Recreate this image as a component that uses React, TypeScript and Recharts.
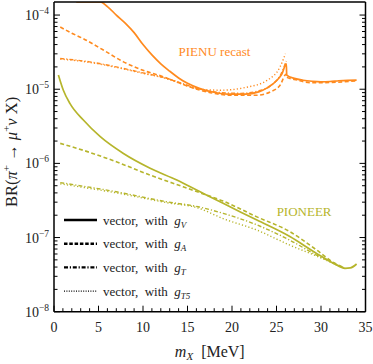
import React from 'react';
import { LineChart, Line, XAxis, YAxis, Legend, ReferenceDot } from 'recharts';

// [m_X (MeV), BR]
const pienuVector: number[][] = [
  [2.5, 1.5e-4], [5.2, 1.5e-4], [6.0, 1.3e-4], [7.0, 1.0e-4], [8.0, 7.8e-5], [9.0, 5.8e-5],
  [10.0, 4.0e-5], [11.0, 2.9e-5], [12.0, 2.2e-5], [13.0, 1.75e-5], [14.0, 1.42e-5], [15.0, 1.2e-5],
  [16.4, 1.02e-5], [18.0, 9.1e-6], [19.5, 8.6e-6], [21.5, 8.6e-6], [23.0, 9.2e-6], [24.0, 1.05e-5],
  [25.0, 1.3e-5], [25.6, 1.6e-5], [26.1, 2.2e-5], [26.15, 1.55e-5], [27.0, 1.4e-5], [28.0, 1.32e-5],
  [29.0, 1.28e-5], [30.0, 1.26e-5], [31.0, 1.27e-5], [32.0, 1.3e-5], [33.0, 1.32e-5], [34.0, 1.33e-5],
];
const pienuAxial: number[][] = [
  [0.7, 6.9e-5], [2.0, 5.7e-5], [3.3, 4.8e-5], [5.5, 3.4e-5], [7.8, 2.34e-5], [10.0, 1.8e-5],
  [12.3, 1.47e-5], [14.2, 1.2e-5], [16.4, 9.7e-6], [18.0, 8.8e-6], [19.8, 8.3e-6], [22.8, 8.3e-6],
  [24.3, 9.2e-6], [25.4, 1.13e-5], [26.1, 1.6e-5], [26.15, 1.45e-5], [27.3, 1.33e-5], [29.0, 1.22e-5],
  [31.0, 1.23e-5], [34.0, 1.3e-5],
];
const pienuTensor: number[][] = [
  [0.7, 2.6e-5], [4.0, 2.34e-5], [7.0, 2.0e-5], [10.0, 1.66e-5], [12.7, 1.4e-5], [14.2, 1.22e-5],
  [16.4, 1.0e-5], [18.7, 9.0e-6], [21.0, 8.8e-6], [23.0, 9.5e-6], [24.5, 1.15e-5], [25.5, 1.6e-5],
  [26.1, 2.4e-5],
];
const pienuTensor5: number[][] = [
  [0.7, 2.55e-5], [4.0, 2.3e-5], [7.0, 1.97e-5], [10.0, 1.64e-5], [12.7, 1.38e-5], [14.2, 1.2e-5],
  [16.4, 1.0e-5], [18.7, 9.7e-6], [21.6, 1.06e-5], [24.0, 1.33e-5], [25.4, 2.0e-5], [26.0, 3.0e-5],
];
const pioneerVector: number[][] = [
  [0.5, 1.55e-5], [1.05, 9.7e-6], [1.8, 6.4e-6], [3.3, 3.84e-6], [5.2, 2.29e-6], [7.8, 1.36e-6],
  [10.8, 8.6e-7], [13.8, 5.96e-7], [16.2, 4.27e-7], [19.0, 2.89e-7], [22.8, 1.72e-7], [26.5, 1.03e-7],
  [29.5, 6.1e-8], [31.4, 4.5e-8], [32.7, 3.85e-8], [33.3, 3.9e-8], [34.0, 4.4e-8],
];
const pioneerAxial: number[][] = [
  [0.7, 1.86e-6], [3.3, 1.5e-6], [7.0, 1.05e-6], [10.8, 6.95e-7], [14.5, 4.84e-7], [16.2, 4.1e-7],
  [19.0, 3.1e-7], [22.8, 1.9e-7], [26.5, 1.2e-7], [29.5, 6.8e-8], [31.4, 4.6e-8], [32.7, 3.85e-8],
];
const pioneerTensor: number[][] = [
  [0.7, 5.5e-7], [7.0, 4.14e-7], [12.7, 3.03e-7], [16.2, 2.6e-7], [19.0, 2.12e-7], [22.8, 1.48e-7],
  [26.5, 9.2e-8], [29.5, 5.8e-8], [31.4, 4.5e-8], [32.7, 3.85e-8],
];
const pioneerTensor5: number[][] = [
  [0.7, 5.3e-7], [7.0, 4.0e-7], [12.7, 2.95e-7], [16.2, 2.5e-7], [19.0, 1.8e-7], [22.8, 1.26e-7],
  [26.5, 7.9e-8], [28.8, 6.1e-8], [30.5, 5.0e-8], [32.0, 4.1e-8],
];

const xMajorTicks = [0, 5, 10, 15, 20, 25, 30, 35];
const xAllTicks = Array.from({ length: 36 }, (_, i) => i);
const yExponents = [-8, -7, -6, -5, -4];
const yAllTicks: number[] = [];
yExponents.forEach((e) => {
  for (let k = 1; k <= 9; k++) {
    const v = k * Math.pow(10, e);
    if (v <= 1.5e-4) yAllTicks.push(v);
  }
});

const legendLabels = ['V', 'A', 'T', 'T5'];
const legendDashes = ['', '3.5 1.8', '4 1.8 1.2 1.8', '1 1.4'];
const legendWidths = [2.6, 2.4, 2.2, 1.2];

const ORANGE = '#FF8A1E';
const OLIVE = '#B6B52C';
const FONT = '"Liberation Serif", "DejaVu Serif", serif';
const TXT = '#222';

const toPts = (a: number[][]) => a.map(([m, v]) => ({ m, v }));

const isMajorY = (v: number) => {
  const l = Math.log10(v);
  return Math.abs(l - Math.round(l)) < 1e-6;
};

const LeftTick = (p: any) => {
  const { x, y, payload } = p;
  const v = payload.value;
  const major = isMajorY(v);
  return (
    <g>
      <line x1={x} y1={y} x2={x + (major ? 6 : 3.5)} y2={y} stroke="#000" strokeWidth={1} />
      {major && (
        <text x={x - 5} y={y + 5} textAnchor="end" fontFamily={FONT} fontSize={14} fill={TXT}>
          10
          <tspan dy={-6} fontSize={9.5}>{`\u2212${-Math.round(Math.log10(v))}`}</tspan>
        </text>
      )}
    </g>
  );
};
const RightTick = (p: any) => {
  const { x, y, payload } = p;
  const major = isMajorY(payload.value);
  return <line x1={x} y1={y} x2={x - (major ? 6 : 3.5)} y2={y} stroke="#000" strokeWidth={1} />;
};
const BottomTick = (p: any) => {
  const { x, y, payload } = p;
  const major = xMajorTicks.includes(payload.value);
  return (
    <g>
      <line x1={x} y1={y} x2={x} y2={y - (major ? 6 : 3.5)} stroke="#000" strokeWidth={1} />
      {major && (
        <text x={x} y={y + 20} textAnchor="middle" fontFamily={FONT} fontSize={14} fill={TXT}>
          {payload.value}
        </text>
      )}
    </g>
  );
};
const TopTick = (p: any) => {
  const { x, y, payload } = p;
  const major = xMajorTicks.includes(payload.value);
  return <line x1={x} y1={y} x2={x} y2={y + (major ? 6 : 3.5)} stroke="#000" strokeWidth={1} />;
};

const XLabel = (p: any) => {
  const vb = p.viewBox;
  const cx = vb.x + vb.width / 2;
  return (
    <text x={cx} y={vb.y + 45} textAnchor="middle" fontFamily={FONT} fontSize={16} fill={TXT}>
      <tspan fontStyle="italic">m</tspan>
      <tspan fontStyle="italic" fontSize={11} dy={3}>X</tspan>
      <tspan dy={-3}>{'\u00A0\u00A0[MeV]'}</tspan>
    </text>
  );
};

const YLabel = (p: any) => {
  const vb = p.viewBox;
  const cx = vb.x - 36;
  const cy = vb.y + vb.height / 2 - 5;
  return (
    <text
      x={cx}
      y={cy}
      textAnchor="middle"
      transform={`rotate(-90, ${cx}, ${cy})`}
      fontFamily={FONT}
      fontSize={16.5}
      fill={TXT}
    >
      <tspan>BR(</tspan>
      <tspan fontStyle="italic">π</tspan>
      <tspan dy={-7} fontSize={11}>+</tspan>
      <tspan dy={7}>{'\u00A0\u2192\u00A0'}</tspan>
      <tspan fontStyle="italic">μ</tspan>
      <tspan dy={-7} fontSize={11}>+</tspan>
      <tspan dy={7} fontStyle="italic">ν</tspan>
      <tspan>{'\u00A0X)'}</tspan>
    </text>
  );
};

const RegionLabel = (p: any) => {
  const vb = p.viewBox || {};
  const cx = (vb.x ?? vb.cx ?? 0) + (vb.width ?? 0) / 2;
  const cy = (vb.y ?? vb.cy ?? 0) + (vb.height ?? 0) / 2;
  return (
    <text x={cx} y={cy + 4.5} textAnchor="middle" fontFamily={FONT} fontSize={13} fill={p.color}>
      {p.text}
    </text>
  );
};

const LegendContent = () => (
  <svg width={150} height={95} style={{ overflow: 'visible' }}>
    {legendLabels.map((lab, i) => {
      const y = 12 + i * 23.7;
      return (
        <g key={lab}>
          <line
            x1={4}
            x2={37}
            y1={y}
            y2={y}
            stroke="#000"
            strokeWidth={legendWidths[i]}
            strokeDasharray={legendDashes[i] || undefined}
          />
          <text x={43} y={y + 4.5} fontFamily={FONT} fontSize={13} fill={TXT}>
            {'vector,\u00A0 with\u00A0 '}
            <tspan fontStyle="italic">g</tspan>
            <tspan fontStyle="italic" fontSize={9} dy={3}>{lab}</tspan>
          </text>
        </g>
      );
    })}
  </svg>
);

const series = [
  { key: 'oV', data: pienuVector, color: ORANGE, dash: '', w: 1.7 },
  { key: 'oA', data: pienuAxial, color: ORANGE, dash: '4 2.5', w: 1.6 },
  { key: 'oT', data: pienuTensor, color: ORANGE, dash: '4 2 1.2 2', w: 1.4 },
  { key: 'oT5', data: pienuTensor5, color: ORANGE, dash: '1.2 2.2', w: 1.4 },
  { key: 'pV', data: pioneerVector, color: OLIVE, dash: '', w: 1.7 },
  { key: 'pA', data: pioneerAxial, color: OLIVE, dash: '4 2.5', w: 1.6 },
  { key: 'pT', data: pioneerTensor, color: OLIVE, dash: '4 2 1.2 2', w: 1.4 },
  { key: 'pT5', data: pioneerTensor5, color: OLIVE, dash: '1.2 2.2', w: 1.4 },
];

export default function App() {
  return (
    <div style={{ position: 'absolute', left: 0, top: 0 }}>
      <LineChart width={373} height={364} margin={{ top: 1, right: 6.5, bottom: 51.3, left: 53 }}>
        <XAxis
          xAxisId="b"
          type="number"
          dataKey="m"
          domain={[0, 35]}
          ticks={xAllTicks}
          interval={0}
          height={1}
          tickSize={0}
          tickMargin={0}
          tickLine={false}
          axisLine={{ stroke: '#000', strokeWidth: 1.5 }}
          tick={<BottomTick />}
          label={<XLabel />}
          allowDataOverflow
        />
        <XAxis
          xAxisId="t"
          orientation="top"
          type="number"
          domain={[0, 35]}
          ticks={xAllTicks}
          interval={0}
          height={1}
          tickSize={0}
          tickMargin={0}
          tickLine={false}
          axisLine={{ stroke: '#000', strokeWidth: 1.5 }}
          tick={<TopTick />}
          allowDataOverflow
        />
        <YAxis
          yAxisId="l"
          type="number"
          dataKey="v"
          scale="log"
          domain={[1e-8, 1.5e-4]}
          ticks={yAllTicks}
          interval={0}
          width={1}
          tickSize={0}
          tickMargin={0}
          tickLine={false}
          axisLine={{ stroke: '#000', strokeWidth: 1.5 }}
          tick={<LeftTick />}
          label={<YLabel />}
          allowDataOverflow
        />
        <YAxis
          yAxisId="r"
          orientation="right"
          type="number"
          scale="log"
          domain={[1e-8, 1.5e-4]}
          ticks={yAllTicks}
          interval={0}
          width={1}
          tickSize={0}
          tickMargin={0}
          tickLine={false}
          axisLine={{ stroke: '#000', strokeWidth: 1.5 }}
          tick={<RightTick />}
          allowDataOverflow
        />
        {series.map((s) => (
          <Line
            key={s.key}
            xAxisId="b"
            yAxisId="l"
            data={toPts(s.data)}
            dataKey="v"
            type="monotone"
            stroke={s.color}
            strokeWidth={s.w}
            strokeDasharray={s.dash || undefined}
            dot={false}
            activeDot={false}
            isAnimationActive={false}
            legendType="none"
          />
        ))}
        <ReferenceDot
          xAxisId="b"
          yAxisId="l"
          x={18.03}
          y={3.19e-5}
          r={0.01}
          fill="none"
          stroke="none"
          label={{ content: (p: any) => <RegionLabel {...p} text="PIENU recast" color={ORANGE} /> }}
        />
        <ReferenceDot
          xAxisId="b"
          yAxisId="l"
          x={28.1}
          y={2.23e-7}
          r={0.01}
          fill="none"
          stroke="none"
          label={{ content: (p: any) => <RegionLabel {...p} text="PIONEER" color={OLIVE} /> }}
        />
        <Legend
          layout="vertical"
          align="center"
          verticalAlign="middle"
          content={<LegendContent />}
          wrapperStyle={{ position: 'absolute', left: 60, top: 208, width: 150, height: 95 }}
        />
      </LineChart>
    </div>
  );
}
